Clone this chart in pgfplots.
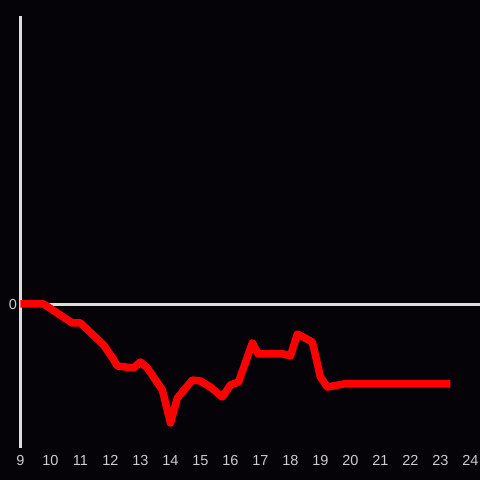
\documentclass[border=0pt]{standalone}
\usepackage{pgfplots}
\pgfplotsset{compat=1.18}
\usepackage{fontspec}
\setmainfont{Liberation Sans}
\definecolor{bg}{HTML}{050308}
\definecolor{ax}{HTML}{DDDDDD}
\definecolor{tl}{HTML}{CCCCCC}
\begin{document}
\begin{tikzpicture}[x=1pt,y=1pt]
\fill[bg] (0,0) rectangle (480,480);
\useasboundingbox (0,0) rectangle (480,480);
\begin{axis}[
  at={(20.5pt,32pt)}, anchor=south west,
  scale only axis, width=459.5pt, height=432pt,
  xmin=9, xmax=24.32, ymin=-144, ymax=288,
  axis x line*=bottom, axis y line*=left,
  x axis line style={draw=none},
  y axis line style={draw=ax, line width=3pt, -},
  xtick={9,10,...,24}, ytick={0},
  major tick length=0pt,
  tick label style={font=\fontsize{14.5}{16}\selectfont, text=tl},
  /pgf/number format/assume math mode=true,
  xticklabel style={yshift=-4pt},
  yticklabel style={xshift=0pt, yshift=-1pt},
  clip=false,
]
\draw[ax, line width=3pt] (axis cs:9,-1) -- (axis cs:24.32,-1);
\addplot[red, line width=7.5pt, line join=round] coordinates {
(9.00,0) (9.77,0) (10.73,-19) (11.00,-19) (11.77,-41) (12.07,-54) (12.23,-62)
(12.77,-64) (13.00,-58) (13.23,-64) (13.73,-86) (14.00,-119) (14.23,-94)
(14.73,-76) (15.00,-77) (15.33,-83) (15.73,-93) (16.00,-81) (16.27,-78)
(16.73,-39) (16.93,-50) (17.77,-50) (18.00,-52) (18.23,-30) (18.73,-38)
(19.00,-73) (19.23,-83) (19.77,-80) (23.33,-80)
};
\end{axis}
\end{tikzpicture}
\end{document}
